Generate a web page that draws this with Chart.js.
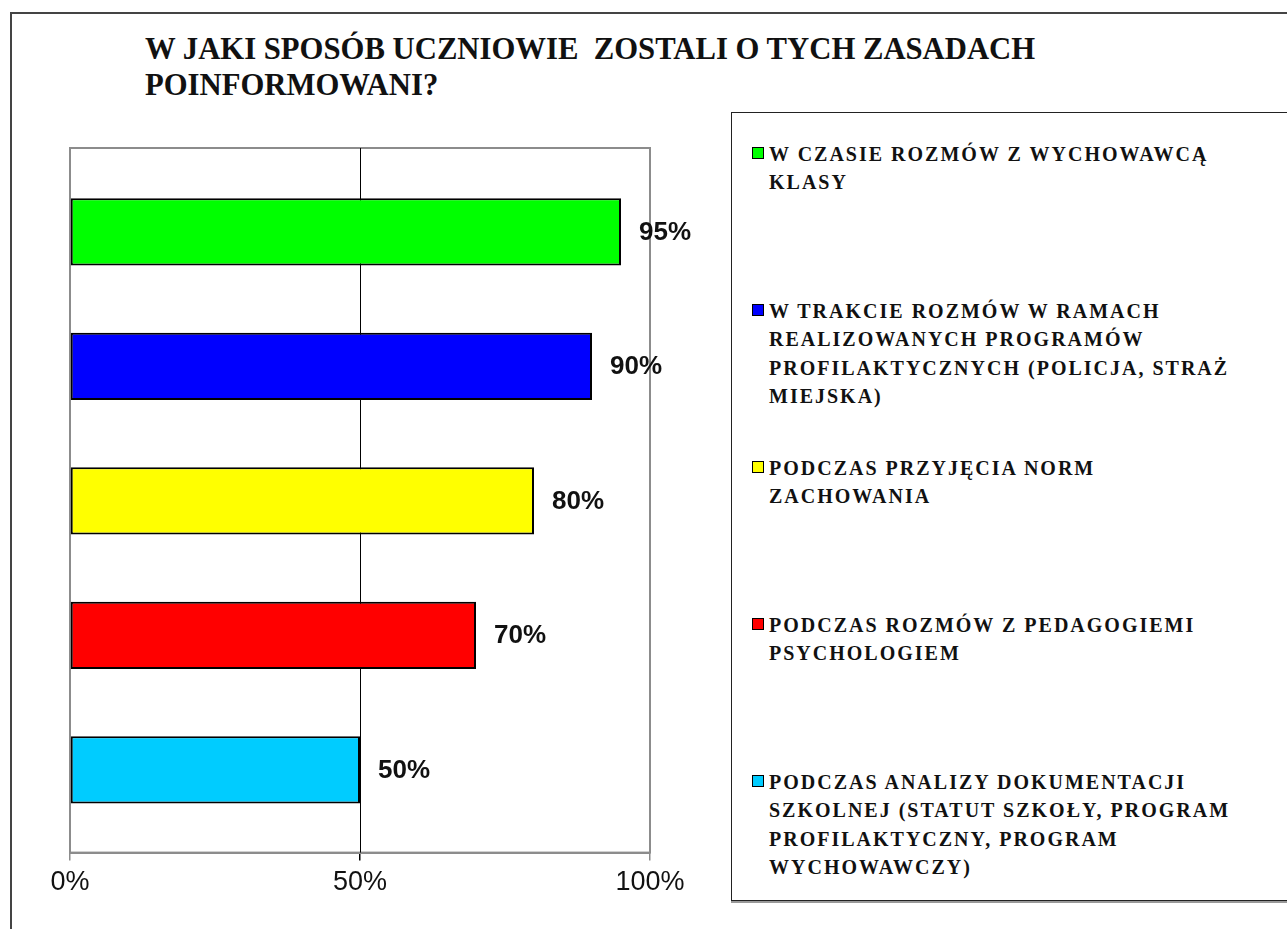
<!DOCTYPE html>
<html><head><meta charset="utf-8">
<script src="https://cdn.jsdelivr.net/npm/chart.js@4.4.1/dist/chart.umd.min.js"></script>
<style>
html,body{margin:0;padding:0;background:#fff;width:1287px;height:929px;overflow:hidden;}
#frame{position:absolute;left:10px;top:12px;width:1400px;height:1000px;border-left:2px solid #444;border-top:2px solid #444;}
#title{position:absolute;left:145px;top:31px;font-family:"Liberation Serif","DejaVu Serif",serif;font-weight:bold;font-size:30.7px;line-height:36px;color:#111;white-space:pre;}
#chartWrap{position:absolute;left:0;top:0;width:720px;height:929px;}
#legend{position:absolute;left:731px;top:112px;width:560px;height:787px;border:1.5px solid #222;box-shadow:0 2px 0 #999;}
.item{position:absolute;left:20px;width:540px;font-family:"Liberation Serif","DejaVu Serif",serif;font-weight:bold;font-size:20px;line-height:28.3px;color:#111;letter-spacing:2px;}
.sw{position:absolute;left:0;top:7px;width:10px;height:10px;border:1.5px solid #000;}
.txt{margin-left:17px;white-space:nowrap;}
</style>
</head>
<body>
<div id="frame"></div>
<div id="title"></div>
<div id="chartWrap"><canvas id="c" width="720" height="929"></canvas></div>
<div id="legend"></div>
<script>
const titleLines = ["W JAKI SPOSÓB UCZNIOWIE  ZOSTALI O TYCH ZASADACH", "POINFORMOWANI?"];
const categories = [
  ["W CZASIE ROZMÓW Z WYCHOWAWCĄ", "KLASY"],
  ["W TRAKCIE ROZMÓW W RAMACH", "REALIZOWANYCH PROGRAMÓW", "PROFILAKTYCZNYCH (POLICJA, STRAŻ", "MIEJSKA)"],
  ["PODCZAS PRZYJĘCIA NORM", "ZACHOWANIA"],
  ["PODCZAS ROZMÓW Z PEDAGOGIEMI", "PSYCHOLOGIEM"],
  ["PODCZAS ANALIZY DOKUMENTACJI", "SZKOLNEJ (STATUT SZKOŁY, PROGRAM", "PROFILAKTYCZNY, PROGRAM", "WYCHOWAWCZY)"]
];
const values = [95, 90, 80, 70, 50];
const colors = ["#00FF00", "#0000FF", "#FFFF00", "#FF0000", "#00CCFF"];
const xTicks = [0, 50, 100];

document.getElementById('title').textContent = titleLines.join('\n');

const legend = document.getElementById('legend');
const itemTops = [27, 184, 341, 498, 655];
categories.forEach((lines, i) => {
  const d = document.createElement('div');
  d.className = 'item';
  d.style.top = itemTops[i] + 'px';
  const sw = document.createElement('span');
  sw.className = 'sw';
  sw.style.background = colors[i];
  const t = document.createElement('div');
  t.className = 'txt';
  t.innerHTML = lines.map(s => s.replace(/&/g,'&amp;').replace(/</g,'&lt;')).join('<br>');
  d.appendChild(sw); d.appendChild(t);
  legend.appendChild(d);
});

const frameBox = {
  id: 'frameBox',
  beforeDatasetsDraw(chart) {
    const a = chart.chartArea, ctx = chart.ctx;
    ctx.save();
    ctx.strokeStyle = '#8c8c8c';
    ctx.lineWidth = 2;
    ctx.strokeRect(a.left, a.top, a.right - a.left, a.bottom - a.top);
    const xs = chart.scales.x;
    const x50 = Math.round(xs.getPixelForValue(50)) + 0.5;
    ctx.strokeStyle = '#000';
    ctx.lineWidth = 1;
    ctx.beginPath(); ctx.moveTo(x50, a.top); ctx.lineTo(x50, a.bottom); ctx.stroke();
    ctx.restore();
  }
};

const valueLabels = {
  id: 'valueLabels',
  afterDatasetsDraw(chart) {
    const ctx = chart.ctx;
    const meta = chart.getDatasetMeta(0);
    ctx.save();
    ctx.font = 'bold 26px "Liberation Sans", Arial, sans-serif';
    ctx.fillStyle = '#111';
    ctx.textBaseline = 'middle';
    ctx.textAlign = 'left';
    meta.data.forEach((el, i) => {
      ctx.fillText(values[i] + '%', el.x + 18, el.y + 1);
    });
    ctx.restore();
  }
};

new Chart(document.getElementById('c'), {
  type: 'bar',
  data: {
    datasets: [{
      data: values.map((v, i) => ({ x: v, y: i })),
      backgroundColor: colors,
      borderColor: '#000',
      borderWidth: 2,
      borderSkipped: false,
      barPercentage: 0.5,
      categoryPercentage: 1
    }]
  },
  options: {
    indexAxis: 'y',
    responsive: false,
    animation: false,
    devicePixelRatio: 1,
    layout: { padding: { left: 70, right: 70, top: 148, bottom: 24 } },
    plugins: { legend: { display: false }, tooltip: { enabled: false }, title: { display: false } },
    scales: {
      x: {
        type: 'linear', min: 0, max: 100,
        afterBuildTicks: axis => { axis.ticks = xTicks.map(v => ({ value: v })); },
        ticks: {
          callback: v => v + '%',
          font: { family: '"Liberation Sans", Arial, sans-serif', size: 27 },
          color: '#111', padding: 6, maxRotation: 0
        },
        grid: { color: ctx => ctx.tick && ctx.tick.value === 50 ? '#000' : '#8c8c8c', lineWidth: 1.5, tickLength: 8, drawOnChartArea: false },
        border: { color: '#8c8c8c', width: 2 }
      },
      y: {
        type: 'linear', reverse: true, min: -0.623, max: 4.616, offset: false,
        afterBuildTicks: axis => { axis.ticks = values.map((v, i) => ({ value: i })); },
        display: false
      }
    }
  },
  plugins: [frameBox, valueLabels]
});
</script>
</body></html>
